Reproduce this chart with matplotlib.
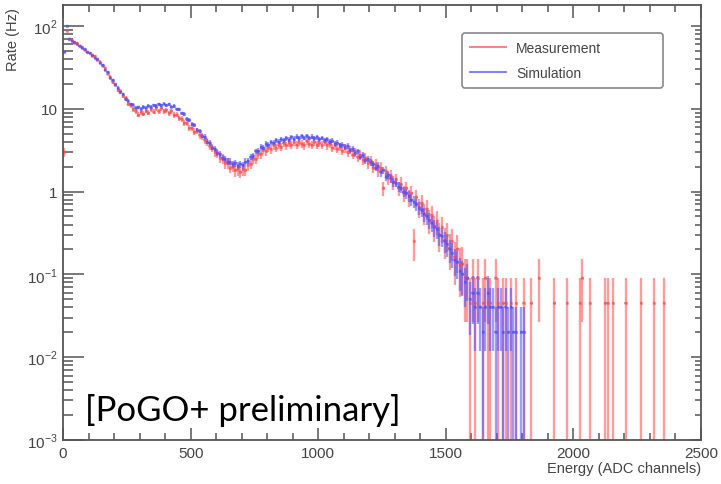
import numpy as np
import matplotlib.pyplot as plt
from matplotlib.lines import Line2D
from matplotlib.ticker import LogLocator, MultipleLocator, NullFormatter, FixedLocator, FixedFormatter

# histogram settings: 10 ADC channels per bin, first bin centre at 5
BIN_WIDTH = 10
FIRST_CENTRE = 5

# measured rate (Hz) per bin, 5 .. 1555 ADC
meas_rate = [
    3.0, 88, 69, 67, 62, 63, 57, 56, 51, 49,
    47, 43, 43, 39, 37, 33, 31, 26.5, 24.5, 21,
    19.8, 17, 16.3, 14.2, 13.3, 11.4, 11.0, 9.9, 9.4, 8.5,
    9.1, 8.7, 9.5, 9.0, 9.8, 9.2, 10.1, 9.3, 10.2, 9.4,
    9.6, 8.8, 9.3, 8.4, 8.5, 7.7, 7.6, 6.7, 6.7, 5.9,
    5.9, 5.3, 5.4, 4.8, 4.7, 4.2, 4.0, 3.55, 3.4, 3.0,
    2.9, 2.55, 2.5, 2.2, 2.2, 1.95, 2.0, 1.8, 1.85, 1.72,
    1.85, 1.82, 2.1, 2.18, 2.5, 2.5, 2.85, 2.85, 3.2, 3.05,
    3.4, 3.25, 3.6, 3.4, 3.7, 3.5, 3.85, 3.6, 3.9, 3.65,
    3.95, 3.7, 4.0, 3.75, 3.6, 4.05, 3.8, 3.7, 3.95, 3.65,
    3.9, 3.7, 3.95, 3.6, 3.75, 3.4, 3.6, 3.3, 3.45, 3.1,
    3.35, 3.0, 3.2, 2.8, 3.0, 2.6, 2.8, 2.4, 2.55, 2.2,
    2.35, 1.95, 2.15, 1.8, 1.95, 1.1, 1.75, 1.45, 1.55, 1.3,
    1.4, 1.1, 1.25, 0.95, 1.1, 0.85, 0.95, 0.25, 0.85, 0.65,
    0.72, 0.55, 0.62, 0.45, 0.52, 0.38, 0.44, 0.3, 0.37, 0.26,
    0.3, 0.21, 0.25, 0.16, 0.2, 0.13,
]

# sparse measured tail: bin centre (ADC) and raw counts
meas_tail_energy = [1565, 1575, 1585, 1595, 1605, 1615, 1625, 1645, 1655, 1665,
                    1675, 1695, 1705, 1725, 1735, 1755, 1775, 1805, 1835, 1865,
                    1925, 1975, 2025, 2035, 2065, 2125, 2135, 2155, 2205, 2265,
                    2315, 2355]
meas_tail_counts = [3, 2, 2, 1, 2, 1, 2, 1, 2, 1,
                    1, 2, 1, 1, 1, 1, 1, 1, 1, 2,
                    1, 1, 1, 2, 1, 1, 1, 1, 1, 1,
                    1, 1]
MEAS_WEIGHT = 0.045  # Hz per recorded count

# simulated rate (Hz) per bin, 5 .. 1805 ADC
sim_rate = [
    48, 100, 70, 65, 64, 60, 58, 54, 52, 48,
    46.5, 44, 41, 39.5, 36, 33.5, 29.5, 27.5, 23.5, 22,
    19.2, 18, 15.8, 15, 13, 12.5, 11.3, 11.2, 10.3, 10.4,
    10.0, 10.5, 10.3, 10.9, 10.5, 11.1, 10.8, 11.4, 11.0, 11.5,
    11.1, 11.3, 10.6, 10.8, 9.9, 9.8, 8.8, 8.6, 7.6, 7.4,
    6.5, 6.3, 5.5, 5.4, 4.7, 4.6, 4.0, 3.9, 3.4, 3.3,
    2.9, 2.85, 2.55, 2.5, 2.3, 2.3, 2.15, 2.2, 2.05, 2.15,
    2.1, 2.3, 2.35, 2.65, 2.7, 3.05, 3.1, 3.45, 3.4, 3.75,
    3.7, 3.95, 3.9, 4.15, 4.0, 4.3, 4.15, 4.4, 4.25, 4.5,
    4.35, 4.6, 4.4, 4.65, 4.45, 4.7, 4.45, 4.6, 4.4, 4.55,
    4.3, 4.45, 4.2, 4.3, 4.0, 4.1, 3.8, 3.9, 3.6, 3.65,
    3.45, 3.55, 3.15, 3.3, 2.9, 3.05, 2.65, 2.8, 2.4, 2.5,
    2.25, 2.15, 1.95, 2.05, 1.7, 1.8, 1.5, 1.6, 1.45, 1.3,
    1.28, 1.15, 1.1, 1.0, 0.95, 0.88, 0.8, 0.75, 0.7, 0.63,
    0.6, 0.53, 0.5, 0.45, 0.42, 0.37, 0.35, 0.3, 0.29, 0.25,
    0.23, 0.2, 0.18, 0.15, 0.14, 0.11, 0.1, 0.08, 0.09, 0.05,
    0.06, 0.04, 0.06, 0.04, 0.02, 0.04, 0.06, 0.04, 0.04, 0.02,
    0.04, 0.04, 0.02, 0.04, 0.02, 0.04, 0.02, 0.02, 0, 0.02,
    0.02,
]
SIM_WEIGHT = 0.02

x_ticks = [0, 500, 1000, 1500, 2000, 2500]
y_ticks = [1e-3, 1e-2, 1e-1, 1, 10, 100]
y_tick_labels = [r'$10^{-3}$', r'$10^{-2}$', r'$10^{-1}$', '1', '10', r'$10^{2}$']

RED = (1.0, 0.3, 0.3)
BLUE = (0.3, 0.3, 1.0)
GREY = '#555555'


def draw_hist(ax, energy, rate, err, color):
    energy = np.asarray(energy, float)
    rate = np.asarray(rate, float)
    err = np.asarray(err, float)
    keep = rate > 0
    energy, rate, err = energy[keep], rate[keep], err[keep]
    # lower bar reaching zero runs off the log axis, like ROOT
    lower = np.minimum(err, rate * 0.99999)
    ax.errorbar(energy, rate, yerr=[lower, err], xerr=BIN_WIDTH / 2,
                fmt='o', ms=2.4, mew=0, color=color, ecolor=color,
                elinewidth=1.7, capsize=0, alpha=0.55)


plt.rcParams['font.family'] = ['Liberation Sans', 'DejaVu Sans']
plt.rcParams['mathtext.fontset'] = 'custom'
plt.rcParams['mathtext.rm'] = 'Liberation Sans'

fig = plt.figure(figsize=(7.21, 4.85), dpi=100)
ax = fig.add_axes([63 / 721, 1 - 441 / 485, 638 / 721, 435 / 485])

# measurement: dense part + sparse tail
e_meas = FIRST_CENTRE + BIN_WIDTH * np.arange(len(meas_rate))
r_meas = np.array(meas_rate)
draw_hist(ax, e_meas, r_meas, np.sqrt(r_meas * MEAS_WEIGHT), RED)
c_tail = np.array(meas_tail_counts, float)
draw_hist(ax, meas_tail_energy, c_tail * MEAS_WEIGHT, np.sqrt(c_tail) * MEAS_WEIGHT, RED)

# simulation
e_sim = FIRST_CENTRE + BIN_WIDTH * np.arange(len(sim_rate))
r_sim = np.array(sim_rate)
draw_hist(ax, e_sim, r_sim, np.sqrt(r_sim * SIM_WEIGHT), BLUE)

ax.set_yscale('log')
ax.set_xlim(0, 2500)
ax.set_ylim(1e-3, 179)

# ROOT-like frame and ticks
for s in ax.spines.values():
    s.set_color(GREY)
    s.set_linewidth(1.3)
ax.xaxis.set_major_locator(FixedLocator(x_ticks))
ax.xaxis.set_minor_locator(MultipleLocator(100))
ax.yaxis.set_major_locator(FixedLocator(y_ticks))
ax.yaxis.set_major_formatter(FixedFormatter(y_tick_labels))
ax.yaxis.set_minor_locator(LogLocator(base=10, subs=np.arange(2, 10)))
ax.yaxis.set_minor_formatter(NullFormatter())
ax.tick_params(axis='x', which='both', direction='in', top=True, colors=GREY,
               labelcolor='#444444', labelsize=11, pad=4, width=1.1)
ax.tick_params(axis='x', which='major', length=9)
ax.tick_params(axis='x', which='minor', length=5)
ax.tick_params(axis='y', which='both', direction='in', right=False, colors=GREY,
               labelcolor='#444444', labelsize=11, pad=4, width=1.1)
ax.tick_params(axis='y', which='major', length=15)
ax.tick_params(axis='y', which='minor', length=7.5)

# right-hand ticks are shorter
axr = ax.twinx()
axr.set_yscale('log')
axr.set_ylim(ax.get_ylim())
axr.yaxis.set_major_locator(FixedLocator(y_ticks))
axr.yaxis.set_minor_locator(LogLocator(base=10, subs=np.arange(2, 10)))
axr.yaxis.set_major_formatter(NullFormatter())
axr.yaxis.set_minor_formatter(NullFormatter())
axr.tick_params(axis='y', which='both', direction='in', colors=GREY, width=1.1)
axr.tick_params(axis='y', which='major', length=7)
axr.tick_params(axis='y', which='minor', length=4)
for s in axr.spines.values():
    s.set_visible(False)

ax.set_xlabel('Energy (ADC channels)', loc='right', fontsize=10.5, color='#444444', labelpad=1)
ax.set_ylabel('Rate (Hz)', loc='top', fontsize=10.5, color='#444444')
ax.yaxis.set_label_coords(-0.068, 0.995)

handles = [Line2D([], [], color='#ff8080', lw=1.4),
           Line2D([], [], color='#8080ff', lw=1.4)]
leg = ax.legend(handles, ['Measurement', 'Simulation'], loc='upper left',
                bbox_to_anchor=(0.625, 0.936, 0.315, 0.0), mode='expand',
                borderaxespad=0, fontsize=10, handlelength=2.6, handletextpad=0.7,
                labelspacing=0.75, borderpad=0.6, fancybox=True, framealpha=1)
leg.get_frame().set_edgecolor('#888888')
leg.get_frame().set_linewidth(1.2)
for t in leg.get_texts():
    t.set_color('#444444')

fig.text(85 / 721, 1 - 421 / 485, '[PoGO+ preliminary]', fontsize=25,
         family='Lato', color='black', va='baseline', ha='left')

fig.savefig('out.png', dpi=100, facecolor='white')
